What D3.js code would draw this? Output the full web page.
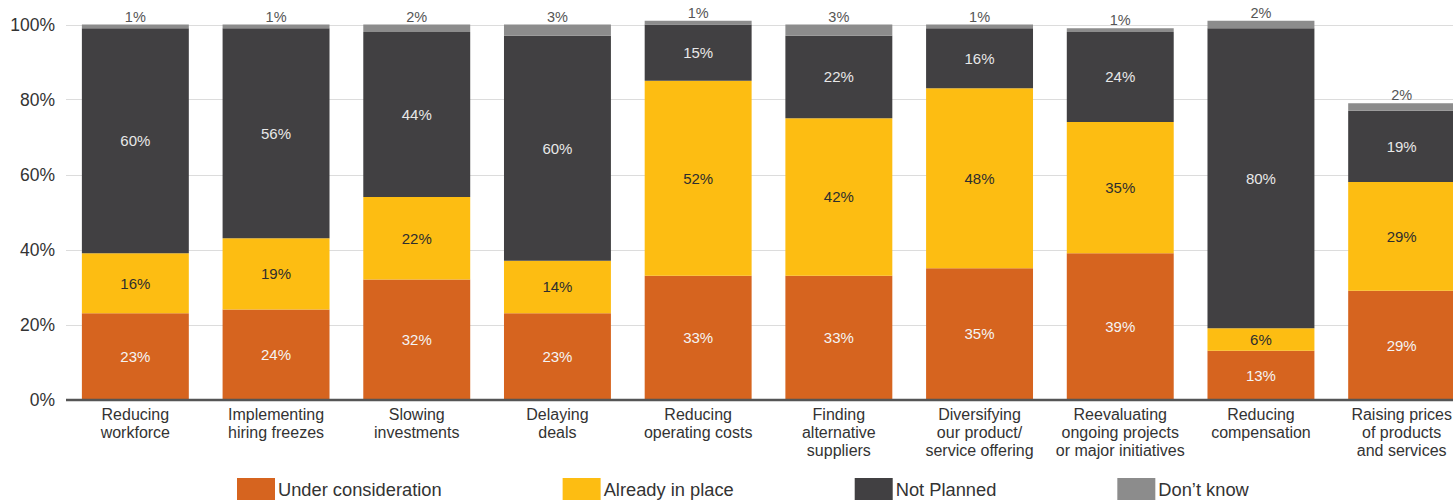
<!DOCTYPE html>
<html>
<head>
<meta charset="utf-8">
<script src="https://cdn.jsdelivr.net/npm/d3@7"></script>
<style>
  html, body { margin: 0; padding: 0; background: #fff; overflow: hidden; }
  svg { display: block; font-family: "Liberation Sans", Arial, Helvetica, sans-serif; }
</style>
</head>
<body>
<svg id="chart" width="1453" height="502"></svg>
<script>
// Categories (multi-line labels split with "\n")
const categories = [
  "Reducing\nworkforce",
  "Implementing\nhiring freezes",
  "Slowing\ninvestments",
  "Delaying\ndeals",
  "Reducing\noperating costs",
  "Finding\nalternative\nsuppliers",
  "Diversifying\nour product/\nservice offering",
  "Reevaluating\nongoing projects\nor major initiatives",
  "Reducing\ncompensation",
  "Raising prices\nof products\nand services"
];

const seriesNames = ["Under consideration", "Already in place", "Not Planned", "Don’t know"];

// Percentages per category, in stacking order from the bottom
const underConsideration = [23, 24, 32, 23, 33, 33, 35, 39, 13, 29];
const alreadyInPlace     = [16, 19, 22, 14, 52, 42, 48, 35, 6, 29];
const notPlanned         = [60, 56, 44, 60, 15, 22, 16, 24, 80, 19];
const dontKnow           = [1, 1, 2, 3, 1, 3, 1, 1, 2, 2];

const yTicks = [0, 20, 40, 60, 80, 100];

const colors = ["#D6641F", "#FDBD12", "#414042", "#8C8C8C"];
const labelColors = ["#F4F4F4", "#2E2E2E", "#E8E8E8", null];

const rows = categories.map((c, i) => ({
  cat: c,
  s0: underConsideration[i],
  s1: alreadyInPlace[i],
  s2: notPlanned[i],
  s3: dontKnow[i]
}));
const keys = ["s0", "s1", "s2", "s3"];

const svg = d3.select("#chart");

const x = d3.scaleBand()
  .domain(categories)
  .range([65, 1472])
  .paddingInner(0.24)
  .paddingOuter(0.12);

const y = d3.scaleLinear().domain([0, 100]).range([399.5, 24.5]);

// Gridlines
svg.append("g")
  .selectAll("line")
  .data(yTicks.filter(t => t > 0))
  .join("line")
  .attr("x1", 66).attr("x2", 1472)
  .attr("y1", d => Math.round(y(d)) + 0.5)
  .attr("y2", d => Math.round(y(d)) + 0.5)
  .attr("stroke", "#DCDCDC")
  .attr("stroke-width", 1.2);

// Y axis tick labels
const yAxis = d3.axisLeft(y).tickValues(yTicks).tickFormat(d => d + "%").tickSize(0).tickPadding(11);
const yg = svg.append("g").attr("transform", "translate(66,0)").call(yAxis);
yg.select(".domain").remove();
yg.selectAll("text")
  .attr("font-size", 17.5)
  .attr("fill", "#333")
  .attr("font-family", "'Liberation Sans', Arial, sans-serif");

// Stacked bars
const stack = d3.stack().keys(keys);
const stacked = stack(rows);

const layers = svg.append("g")
  .selectAll("g")
  .data(stacked)
  .join("g")
  .attr("fill", (d, i) => colors[i]);

layers.selectAll("rect")
  .data(d => d)
  .join("rect")
  .attr("x", d => x(d.data.cat))
  .attr("width", x.bandwidth())
  .attr("y", d => y(d[1]))
  .attr("height", d => y(d[0]) - y(d[1]));

// Value labels inside segments (first three series)
stacked.slice(0, 3).forEach((layer, li) => {
  svg.append("g")
    .selectAll("text")
    .data(layer)
    .join("text")
    .attr("x", d => x(d.data.cat) + x.bandwidth() / 2)
    .attr("y", d => (y(d[0]) + y(d[1])) / 2)
    .attr("dy", "0.36em")
    .attr("text-anchor", "middle")
    .attr("font-size", 15)
    .attr("fill", labelColors[li])
    .text(d => (d[1] - d[0]) + "%");
});

// "Don't know" values shown above each bar
svg.append("g")
  .selectAll("text")
  .data(stacked[3])
  .join("text")
  .attr("x", d => x(d.data.cat) + x.bandwidth() / 2)
  .attr("y", d => y(d[1]) - 3)
  .attr("text-anchor", "middle")
  .attr("font-size", 14.5)
  .attr("fill", "#555")
  .text(d => (d[1] - d[0]) + "%");

// Baseline
svg.append("line")
  .attr("x1", 66).attr("x2", 1472)
  .attr("y1", y(0) + 0.5).attr("y2", y(0) + 0.5)
  .attr("stroke", "#555")
  .attr("stroke-width", 2.5);

// Category labels
const xg = svg.append("g");
categories.forEach(c => {
  const t = xg.append("text")
    .attr("x", x(c) + x.bandwidth() / 2)
    .attr("y", 420)
    .attr("text-anchor", "middle")
    .attr("font-size", 16)
    .attr("fill", "#333");
  c.split("\n").forEach((line, li) => {
    t.append("tspan")
      .attr("x", x(c) + x.bandwidth() / 2)
      .attr("dy", li === 0 ? 0 : 18)
      .text(line);
  });
});

// Legend
const legend = svg.append("g");
let lx = 237;
seriesNames.forEach((name, i) => {
  legend.append("rect")
    .attr("x", lx).attr("y", 478)
    .attr("width", 38).attr("height", 22)
    .attr("fill", colors[i]);
  const t = legend.append("text")
    .attr("x", lx + 41).attr("y", 496)
    .attr("font-size", 18.3)
    .attr("fill", "#333")
    .text(name);
  lx += 41 + t.node().getComputedTextLength() + 121;
});
</script>
</body>
</html>
